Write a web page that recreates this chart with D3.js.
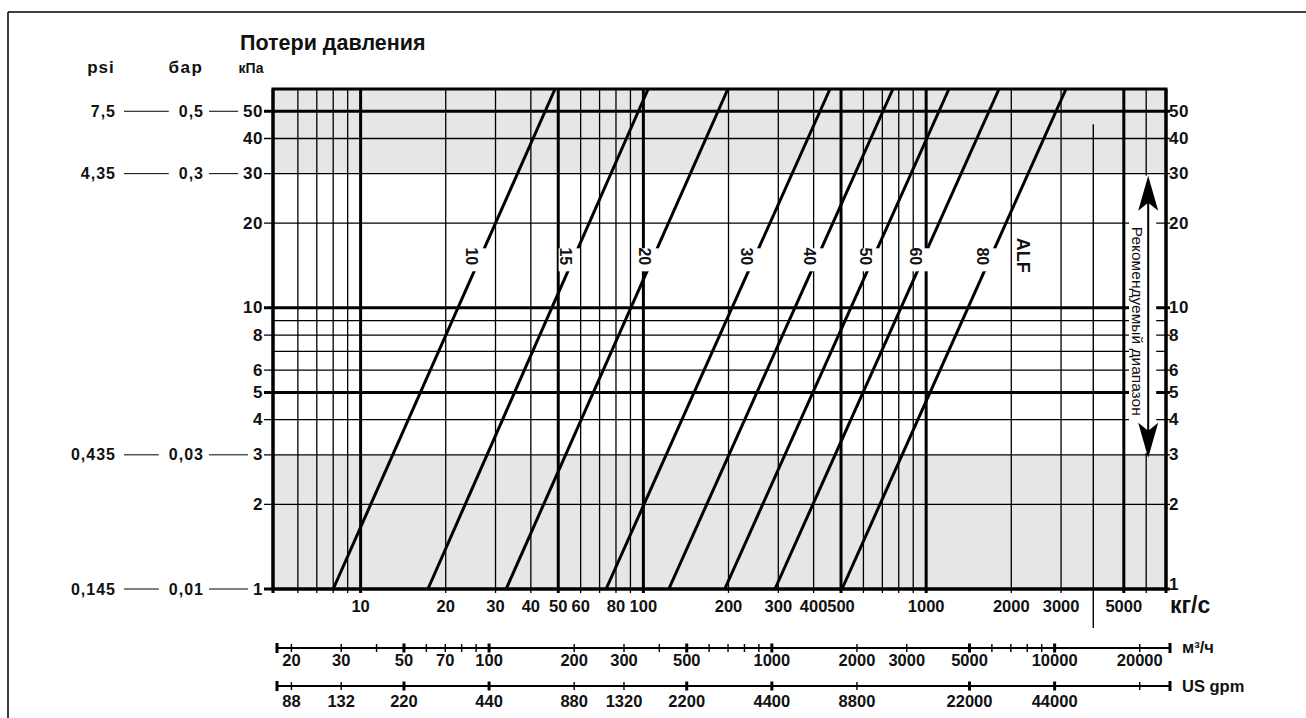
<!DOCTYPE html>
<html><head><meta charset="utf-8">
<script src="https://cdn.jsdelivr.net/npm/d3@7"></script>
<style>
body{margin:0;background:#fff}
svg{display:block}
text{font-family:"Liberation Sans",Arial,Helvetica,sans-serif;fill:#111}
</style>
</head><body>
<svg id="chart" width="1306" height="718"></svg>
<script>
// ---------------- data ----------------
const chartTitle = "Потери давления";
const dpTickValues = [1,2,3,4,5,6,8,10,20,30,40,50];          // kPa labels
const dpGridValues = [2,3,4,5,6,7,8,9,10,20,30,40,50];
const dpMajorValues = [5,10,50];
const flowGridValues = [6,7,8,9,10,20,30,40,50,60,70,80,90,100,200,300,400,500,600,700,800,900,1000,2000,3000,5000,6000];
const flowMajorValues = [10,50,100,500,1000,5000];
const flowTickValues = [10,20,30,40,50,60,80,100,200,300,400,500,1000,2000,3000,5000];

const seriesNames = ["10","15","20","30","40","50","60","80"];
const flowAtLowDp = [8.0, 17.3, 32.7, 73.8, 123, 194, 292, 504];      // kg/s at 1 kPa
const flowAtHighDp = [48.7, 104, 199, 457, 763, 1204, 1810, 3123];     // kg/s at 60 kPa
const seriesDp = [1, 60];
const labelDp = 15;
const modelName = "ALF";
const modelLabelFlow = 2200;
const markerFlow = 3900;

const refKpa = [50, 30, 3, 1];
const barLabels = ["0,5", "0,3", "0,03", "0,01"];
const psiLabels = ["7,5", "4,35", "0,435", "0,145"];

const recRange = [3, 30];
const recText = "Рекомендуемый диапазон";
const recFlow = 6000;

const m3hMinor = [20,30,40,60,70,80,90,200,300,400,600,700,800,900,2000,3000,6000,7000,8000,9000,20000];
const m3hMajor = [50,100,500,1000,5000,10000];
const m3hLabels = [20,30,50,70,100,200,300,500,1000,2000,3000,5000,10000,20000];
const gpmMinor = [88,132,880,1320,8800,88000];
const gpmMajor = [220,440,2200,4400,22000,44000];
const gpmLabels = [88,132,220,440,880,1320,2200,4400,8800,22000,44000];
const m3hPerKgs = 3.6;
const gpmPerM3h = 4.4;

// ---------------- layout ----------------
const svg = d3.select("#chart");
const L = 273, R = 1166, T = 89, B = 589;
const x = d3.scaleLog().domain([4.9, 7050]).range([L, R]);
const y = d3.scaleLog().domain([1, 60]).range([B, T]);
const thin = 1.3, thick = 3;
const gray = "#e6e6e6";

// outer frame
svg.append("line").attr("x1",8).attr("x2",1306).attr("y1",12).attr("y2",12).attr("stroke","#000").attr("stroke-width",1.5);
svg.append("line").attr("x1",8).attr("x2",8).attr("y1",12).attr("y2",718).attr("stroke","#000").attr("stroke-width",1.5);

// title and headers
svg.append("text").attr("x",240).attr("y",50).attr("font-size",21.5).attr("font-weight","bold").text(chartTitle);
svg.append("text").attr("x",101).attr("y",73).attr("font-size",17).attr("letter-spacing",1).attr("font-weight","bold").attr("text-anchor","middle").text("psi");
svg.append("text").attr("x",186).attr("y",73).attr("font-size",17).attr("letter-spacing",1.5).attr("font-weight","bold").attr("text-anchor","middle").text("бар");
svg.append("text").attr("x",251).attr("y",73).attr("font-size",14).attr("font-weight","bold").attr("text-anchor","middle").text("кПа");

// gray bands
svg.append("rect").attr("x",L).attr("y",T).attr("width",R-L).attr("height",y(recRange[1])-T).attr("fill",gray);
svg.append("rect").attr("x",L).attr("y",y(recRange[0])).attr("width",R-L).attr("height",B-y(recRange[0])).attr("fill",gray);

// horizontal grid
const g = svg.append("g");
dpGridValues.forEach(v => {
  const labeled = dpTickValues.includes(v);
  g.append("line").attr("x1", labeled ? L-9 : L).attr("x2", labeled ? R+4 : R)
    .attr("y1", y(v)).attr("y2", y(v)).attr("stroke","#000")
    .attr("stroke-width", dpMajorValues.includes(v) ? thick : thin);
});
// vertical grid
flowGridValues.forEach(v => {
  g.append("line").attr("x1", x(v)).attr("x2", x(v)).attr("y1", T).attr("y2", B+4)
    .attr("stroke","#000").attr("stroke-width", flowMajorValues.includes(v) ? thick : thin);
});
// marker line
g.append("line").attr("x1", x(markerFlow)).attr("x2", x(markerFlow)).attr("y1", y(45)).attr("y2", 628)
  .attr("stroke","#000").attr("stroke-width",1.4);

// border
svg.append("rect").attr("x",L).attr("y",T).attr("width",R-L).attr("height",B-T)
  .attr("fill","none").attr("stroke","#000").attr("stroke-width",thick);
svg.append("line").attr("x1",L-9).attr("x2",R+4).attr("y1",B).attr("y2",B).attr("stroke","#000").attr("stroke-width",thick);
svg.append("line").attr("x1",L).attr("x2",L).attr("y1",T).attr("y2",B+4).attr("stroke","#000").attr("stroke-width",thick);

// pressure-loss lines
const lineGen = d3.line().x(d => x(d[0])).y(d => y(d[1]));
seriesNames.forEach((name, i) => {
  const pts = [[flowAtLowDp[i], seriesDp[0]], [flowAtHighDp[i], seriesDp[1]]];
  svg.append("path").attr("d", lineGen(pts)).attr("fill","none").attr("stroke","#000").attr("stroke-width",3);
});
// line labels
seriesNames.forEach((name, i) => {
  const t = Math.log(labelDp / seriesDp[0]) / Math.log(seriesDp[1] / seriesDp[0]);
  const q = Math.exp(Math.log(flowAtLowDp[i]) + t * (Math.log(flowAtHighDp[i]) - Math.log(flowAtLowDp[i])));
  const px = x(q), py = y(labelDp);
  const cx = px - 8, cy = py - 2;
  svg.append("rect").attr("x", cx - 7).attr("y", py - 10).attr("width", 21).attr("height", 23).attr("fill","#fff");
  svg.append("text").attr("transform", `translate(${cx},${cy}) rotate(90)`)
    .attr("text-anchor","middle").attr("dominant-baseline","central")
    .attr("font-size",16).attr("font-weight","bold").text(name);
});
svg.append("text").attr("transform", `translate(${x(modelLabelFlow)},${y(labelDp)-3}) rotate(90)`)
  .attr("text-anchor","middle").attr("dominant-baseline","central")
  .attr("font-size",18).attr("font-weight","bold").text(modelName);

// recommended range box + arrow
const ax = x(recFlow) + 2;
const yTop = y(recRange[1]), yBot = y(recRange[0]);
svg.append("rect").attr("x", 1129).attr("y", yTop + 2).attr("width", ax + 8 - 1129).attr("height", yBot - yTop - 4).attr("fill","#fff");
svg.append("line").attr("x1",R).attr("x2",R).attr("y1",T).attr("y2",B+4).attr("stroke","#000").attr("stroke-width",thick);
svg.append("line").attr("x1",ax).attr("x2",ax).attr("y1",yTop+20).attr("y2",yBot-20).attr("stroke","#000").attr("stroke-width",2);
svg.append("path").attr("d", `M${ax},${yTop+2} L${ax+10},${yTop+37} L${ax},${yTop+29} L${ax-10},${yTop+37} Z`).attr("fill","#000");
svg.append("path").attr("d", `M${ax},${yBot+3} L${ax+10},${yBot-32} L${ax},${yBot-24} L${ax-10},${yBot-32} Z`).attr("fill","#000");
svg.append("text").attr("transform", `translate(${ax-11},${(yTop+yBot)/2+7}) rotate(90)`)
  .attr("text-anchor","middle").attr("dominant-baseline","central")
  .attr("font-size",15.5).text(recText);

// left & right kPa labels
dpTickValues.forEach(v => {
  svg.append("text").attr("x", L-10).attr("y", y(v)).attr("text-anchor","end").attr("dominant-baseline","central")
    .attr("font-size",17).attr("letter-spacing",0.5).attr("font-weight","bold").text(v);
  svg.append("text").attr("x", R+3).attr("y", v === 1 ? y(v)-5 : y(v)).attr("text-anchor","start").attr("dominant-baseline","central")
    .attr("font-size",17).attr("letter-spacing",0.5).attr("font-weight","bold").text(v);
});
// bar & psi equivalents
refKpa.forEach((v, i) => {
  const yy = y(v);
  const kpaText = svg.append("text").attr("x",-100).attr("y",-100).attr("font-size",17).attr("letter-spacing",0.5).attr("font-weight","bold").text(v);
  const kw = kpaText.node().getComputedTextLength(); kpaText.remove();
  const bt = svg.append("text").attr("x", 204).attr("y", yy).attr("text-anchor","end").attr("dominant-baseline","central")
    .attr("font-size",16).attr("letter-spacing",1).attr("font-weight","bold").text(barLabels[i]);
  const bw = bt.node().getComputedTextLength();
  svg.append("line").attr("x1", 209).attr("x2", L-10-kw-5).attr("y1", yy).attr("y2", yy).attr("stroke","#000").attr("stroke-width",1);
  svg.append("text").attr("x", 116).attr("y", yy).attr("text-anchor","end").attr("dominant-baseline","central")
    .attr("font-size",16).attr("letter-spacing",1).attr("font-weight","bold").text(psiLabels[i]);
  svg.append("line").attr("x1", 124).attr("x2", 204-bw-10).attr("y1", yy).attr("y2", yy).attr("stroke","#000").attr("stroke-width",1);
});

// kg/s labels
flowTickValues.forEach(v => {
  svg.append("text").attr("x", x(v)).attr("y", 612).attr("text-anchor","middle")
    .attr("font-size",16.5).attr("font-weight","bold").text(v);
});
svg.append("text").attr("x", 1170).attr("y", 613).attr("font-size",23).attr("font-weight","bold").text("кг/с");

// secondary flow axes
function flowAxis(yy, factor, minor, major, labels, labelY, unit, unitY) {
  const sx = v => x(v / factor) + 3;
  const x0 = x(4.9) + 4, x1 = x(7050) + 4;
  svg.append("line").attr("x1", x0).attr("x2", x1).attr("y1", yy).attr("y2", yy).attr("stroke","#000").attr("stroke-width",2);
  [x0, x1].forEach(xx => svg.append("line").attr("x1",xx).attr("x2",xx).attr("y1",yy-5).attr("y2",yy+5).attr("stroke","#000").attr("stroke-width",3));
  minor.forEach(v => svg.append("line").attr("x1",sx(v)).attr("x2",sx(v)).attr("y1",yy-4).attr("y2",yy+4).attr("stroke","#000").attr("stroke-width",1.4));
  major.forEach(v => svg.append("line").attr("x1",sx(v)).attr("x2",sx(v)).attr("y1",yy-4.5).attr("y2",yy+4.5).attr("stroke","#000").attr("stroke-width",3));
  labels.forEach(v => svg.append("text").attr("x", sx(v)).attr("y", labelY).attr("text-anchor","middle")
    .attr("font-size",16.5).attr("font-weight","bold").text(v));
  svg.append("text").attr("x", 1182).attr("y", unitY).attr("font-size",16.5).attr("font-weight","bold").text(unit);
}
flowAxis(648, m3hPerKgs, m3hMinor, m3hMajor, m3hLabels, 666, "м³/ч", 653);
flowAxis(686, m3hPerKgs * gpmPerM3h, gpmMinor, gpmMajor, gpmLabels, 707, "US gpm", 692);
</script>
</body></html>
